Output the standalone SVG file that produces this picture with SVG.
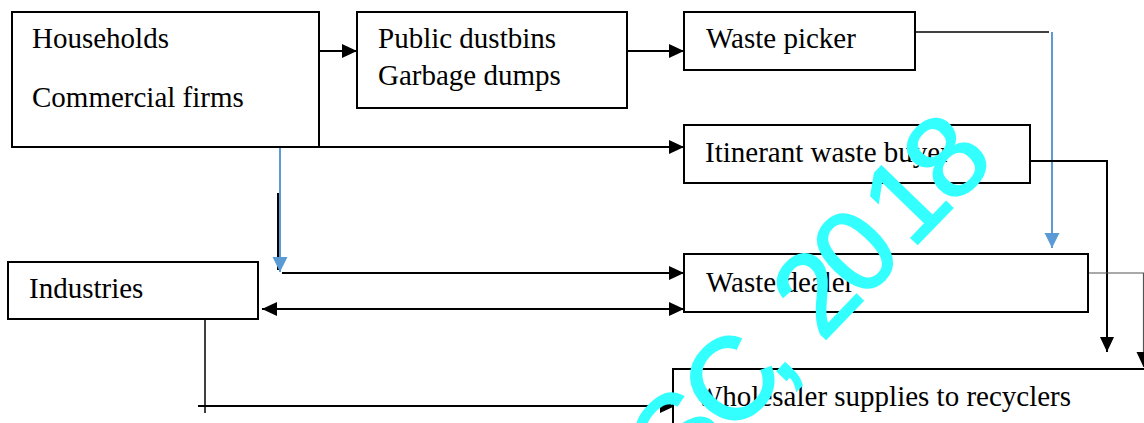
<svg xmlns="http://www.w3.org/2000/svg" width="1144" height="423" viewBox="0 0 1144 423">
  <defs>
    <marker id="ah" markerUnits="userSpaceOnUse" markerWidth="16" markerHeight="16" viewBox="0 0 16 16" refX="15" refY="8" orient="auto-start-reverse">
      <path d="M0,1 L15,8 L0,15 Z" fill="#000"/>
    </marker>
    <marker id="ahb" markerUnits="userSpaceOnUse" markerWidth="16" markerHeight="16" viewBox="0 0 16 16" refX="15" refY="8" orient="auto">
      <path d="M0,0.5 L15,8 L0,15.5 Z" fill="#5b9bd5"/>
    </marker>
  </defs>
  <style>
    .box { fill: #fff; stroke: #000; stroke-width: 2; }
    .lbl { font-family: "Liberation Serif", "Times New Roman", serif; font-size: 29px; fill: #000; }
    .arr { fill: none; stroke: #000; stroke-width: 2; }
    .thin { fill: none; stroke: #000; stroke-width: 1.5; }
    .blue { fill: none; stroke: #5b9bd5; stroke-width: 2; }
    .mark { font-family: "Liberation Sans", Arial, sans-serif; font-size: 116px; fill: #3ff; stroke: #3ff; stroke-width: 2; }
  </style>
  <rect width="1144" height="423" fill="#fff"/>

  <g id="connectors">
    <!-- households to public dustbins -->
    <line class="arr" x1="319" y1="51" x2="357" y2="51" marker-end="url(#ah)"/>
    <!-- public dustbins to waste picker -->
    <line class="arr" x1="627" y1="51" x2="684" y2="51" marker-end="url(#ah)"/>
    <!-- households to itinerant waste buyer -->
    <line class="arr" x1="319" y1="147" x2="684" y2="147" marker-end="url(#ah)"/>
    <!-- waste picker to waste dealer -->
    <line class="thin" x1="915" y1="32" x2="1049" y2="32"/>
    <line class="blue" x1="1052" y1="32" x2="1052" y2="248" marker-end="url(#ahb)"/>
    <!-- households down to waste dealer -->
    <line class="arr" x1="278" y1="193" x2="278" y2="270"/>
    <line class="blue" x1="280" y1="147" x2="280" y2="272" marker-end="url(#ahb)"/>
    <line class="arr" x1="282" y1="273" x2="684" y2="273" marker-end="url(#ah)"/>
    <!-- industries and waste dealer, both ways -->
    <line class="arr" x1="262" y1="309" x2="684" y2="309" marker-start="url(#ah)" marker-end="url(#ah)"/>
    <!-- itinerant waste buyer to wholesaler -->
    <polyline class="arr" points="1030,161 1107,161 1107,352" marker-end="url(#ah)"/>
    <!-- waste dealer to wholesaler -->
    <polyline fill="none" stroke="#555" stroke-width="1.2" points="1088,273 1143.5,273 1143.5,367" marker-end="url(#ah)"/>
    <!-- industries to wholesaler -->
    <line class="thin" x1="205" y1="319" x2="205" y2="413"/>
    <line class="arr" x1="198" y1="406" x2="675" y2="406" marker-end="url(#ah)"/>
  </g>

  <g id="households">
    <rect class="box" x="12" y="12" width="307" height="135"/>
    <text class="lbl" x="32" y="48">Households</text>
    <text class="lbl" x="32" y="107">Commercial firms</text>
  </g>

  <g id="public-dustbins">
    <rect class="box" x="357" y="12" width="270" height="96"/>
    <text class="lbl" x="378" y="48">Public dustbins</text>
    <text class="lbl" x="378" y="85">Garbage dumps</text>
  </g>

  <g id="waste-picker">
    <rect class="box" x="684" y="12" width="231" height="58"/>
    <text class="lbl" x="706" y="48">Waste picker</text>
  </g>

  <g id="itinerant-waste-buyer">
    <rect class="box" x="684" y="125" width="346" height="58"/>
    <text class="lbl" x="705" y="162">Itinerant waste buyer</text>
  </g>

  <g id="industries">
    <rect class="box" x="8" y="262" width="250" height="57"/>
    <text class="lbl" x="29" y="298">Industries</text>
  </g>

  <g id="waste-dealer">
    <rect class="box" x="684" y="254" width="404" height="58"/>
    <text class="lbl" x="706" y="292">Waste dealer</text>
  </g>

  <g id="wholesaler">
    <rect class="box" x="673" y="369" width="490" height="80"/>
    <text class="lbl" x="695" y="406">Wholesaler supplies to recyclers</text>
  </g>

  <!-- diagonal stamp across the lower right -->
  <text class="mark" transform="translate(822,343) rotate(-46)" x="-205 -132 -62 -35 0 57 129 188" y="0">SC, 2018</text>
</svg>
